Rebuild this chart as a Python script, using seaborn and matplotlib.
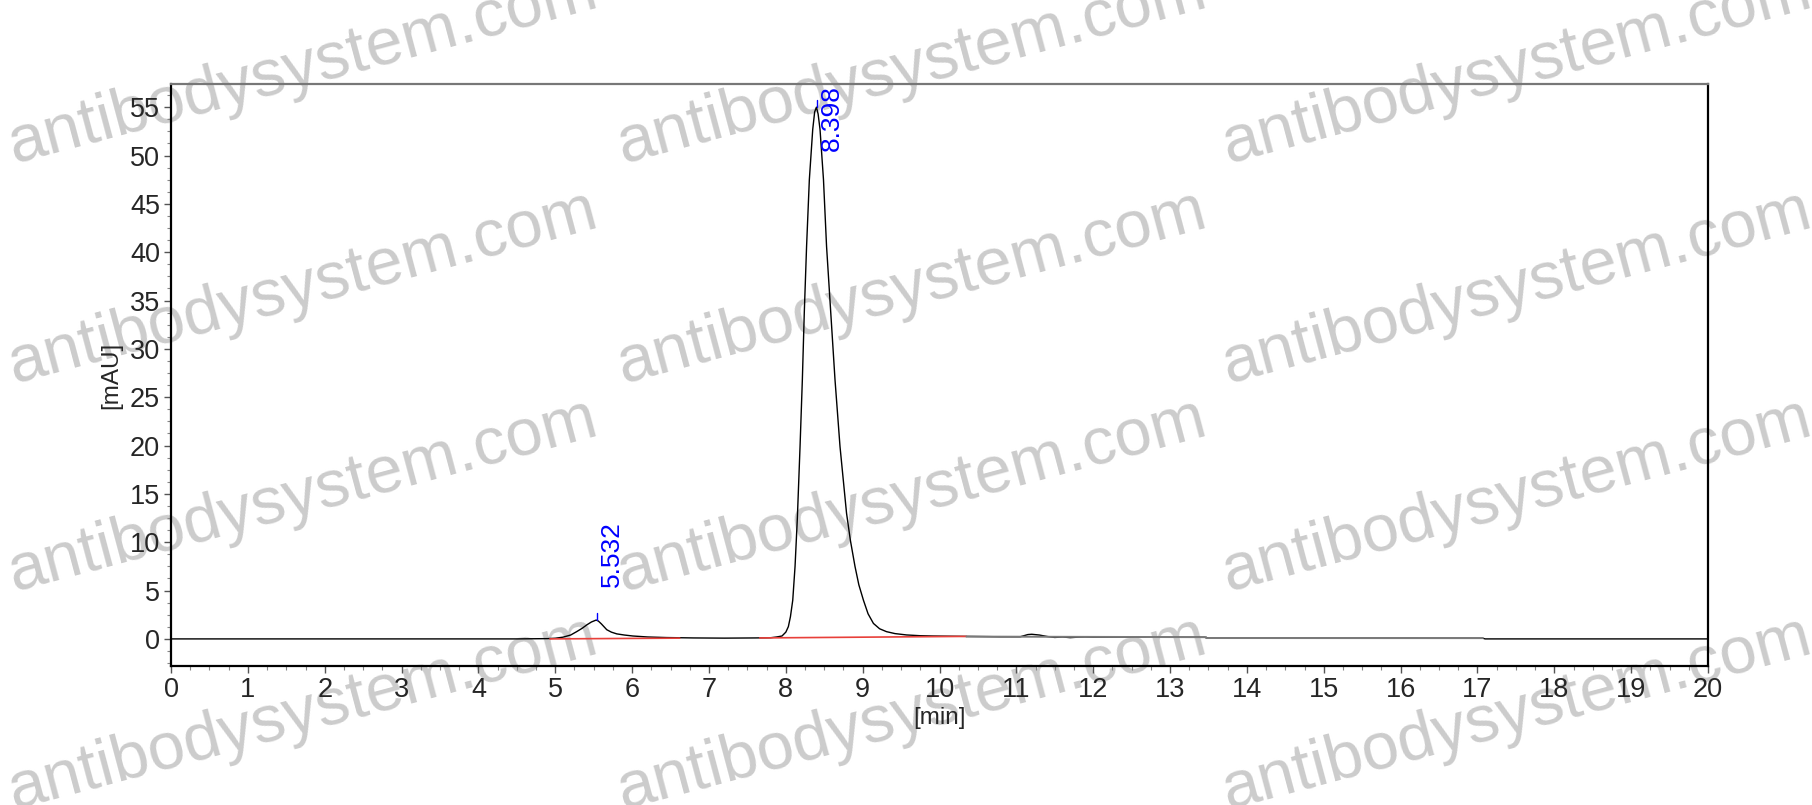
import matplotlib
matplotlib.use("Agg")
import matplotlib.pyplot as plt
import seaborn as sns
import pandas as pd
from matplotlib.ticker import MultipleLocator

# ---- data ----
time_min = [0.0, 4.5, 4.9, 5.0, 5.1, 5.2, 5.28, 5.35, 5.41, 5.47, 5.532, 5.56, 5.6,
            5.67, 5.73, 5.8, 5.9, 6.01, 6.2, 6.45, 6.8, 7.2, 7.6, 7.8, 7.88, 7.95,
            8.0, 8.033, 8.06, 8.09, 8.12, 8.15, 8.185, 8.215, 8.24, 8.27, 8.306,
            8.35, 8.375, 8.398, 8.42, 8.445, 8.49, 8.53, 8.585, 8.64, 8.705, 8.79,
            8.84, 8.9, 8.95, 9.01, 9.07, 9.14, 9.22, 9.31, 9.42, 9.57,
            9.75, 9.92, 10.35, 10.8, 11.05, 11.15, 11.2, 11.3, 11.4, 11.5, 11.6,
            11.7, 11.8, 11.9, 12.0, 13.45, 13.5, 17.07, 17.1, 20.0]
signal_mau = [0.0, 0.0, 0.03, 0.07, 0.18, 0.4, 0.76, 1.1, 1.45, 1.75, 1.95, 1.85, 1.55,
              0.95, 0.7, 0.52, 0.4, 0.3, 0.2, 0.14, 0.1, 0.08, 0.1, 0.12, 0.2, 0.3,
              0.7, 1.27, 2.3, 4.0, 7.5, 12.5, 19.9, 26.8, 33.7, 40.6, 47.5,
              52.7, 54.5, 55.0, 54.3, 52.7, 47.5, 40.6, 33.7, 26.8, 19.9, 13.0,
              10.2, 7.5, 5.6, 4.0, 2.6, 1.6, 1.05, 0.75, 0.55, 0.41,
              0.33, 0.3, 0.26, 0.22, 0.22, 0.45, 0.48, 0.4, 0.25, 0.15, 0.2,
              0.13, 0.18, 0.2, 0.17, 0.17, 0.08, 0.07, 0.0, 0.0]

# integration baselines (red) and auxiliary baseline (gray)
red_base_t = [[4.93, 6.62], [7.66, 10.35]]
red_base_v = [[0.0, 0.08], [0.1, 0.26]]
gray_base_t = [[10.35, 13.47], [13.47, 17.07]]
gray_base_v = [[0.24, 0.18], [0.09, 0.08]]

peak_rt = [5.532, 8.398]
peak_labels = ["5.532", "8.398"]
peak_height = [1.95, 55.0]
label_bottom = [5.4, 50.5]

x_ticks = list(range(0, 21))
y_ticks = list(range(0, 60, 5))

# ---- plotting ----
sns.set_style("ticks")
plt.rcParams['font.family'] = ['Liberation Sans', 'DejaVu Sans']

fig = plt.figure(figsize=(18.12, 8.05), dpi=100)
ax = fig.add_axes([0.0944, 0.1727, 0.8482, 0.723])
ax.set_facecolor('none')
ax.set_zorder(1)

# watermark
wm_x = [0.167, 0.503, 0.837]
wm_y = [0.915, 0.642, 0.383, 0.112]
for yy in wm_y:
    for xx in wm_x:
        fig.text(xx, yy, "antibodysystem.com", fontsize=48, color=(0.8, 0.8, 0.8),
                 rotation=15, ha='center', va='center', rotation_mode='anchor', zorder=-1)

df = pd.DataFrame({"t": time_min, "v": signal_mau})
sns.lineplot(data=df, x="t", y="v", ax=ax, color="black", linewidth=1.0,
             sort=False, estimator=None, zorder=3)

for tt, vv in zip(red_base_t, red_base_v):
    ax.plot(tt, vv, color="#e8403a", linewidth=1.2, zorder=4)
for tt, vv in zip(gray_base_t, gray_base_v):
    ax.plot(tt, vv, color="#7a7a7a", linewidth=1.4, zorder=4)

for rt, lab, h, lb in zip(peak_rt, peak_labels, peak_height, label_bottom):
    ax.plot([rt + 0.005, rt + 0.005], [h, h + 0.7], color="blue", linewidth=1.0, zorder=5)
    ax.text(rt + 0.2, lb, lab, rotation=90, ha='center', va='bottom', color="blue",
            fontsize=19, zorder=5)

ax.set_xlim(0, 20)
ax.set_ylim(-2.8, 57.4)
ax.set_xticks(x_ticks)
ax.set_yticks(y_ticks)
ax.xaxis.set_minor_locator(MultipleLocator(0.25))
ax.yaxis.set_minor_locator(MultipleLocator(1.25))
ax.tick_params(axis='both', which='major', labelsize=19.5, length=5, width=1.0,
               color="#555555", pad=3, direction='out')
ax.tick_params(axis='both', which='minor', length=3, width=0.8, color="#888888",
               direction='out')
ax.set_xlabel("[min]", fontsize=17.5, labelpad=3)
ax.set_ylabel("[mAU]", fontsize=17.5, labelpad=5)

for side in ['left', 'bottom', 'right']:
    ax.spines[side].set_color('black')
    ax.spines[side].set_linewidth(1.6)
ax.spines['top'].set_color('#777777')
ax.spines['top'].set_linewidth(1.6)

fig.savefig("out.png", dpi=100)
